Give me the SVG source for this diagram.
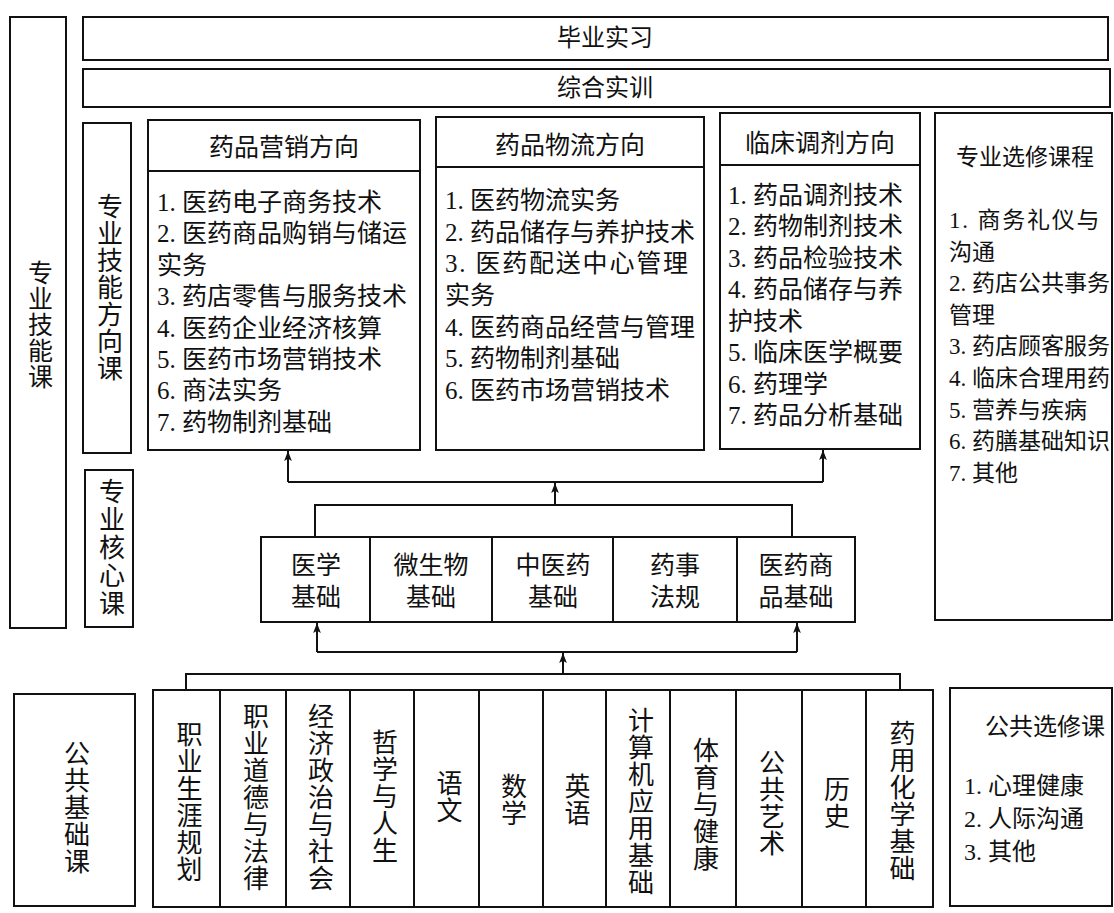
<svg xmlns="http://www.w3.org/2000/svg" width="1114" height="913" viewBox="0 0 1114 913">
<defs>
<marker id="arr" markerWidth="10" markerHeight="13" viewBox="0 0 13 10" refX="13" refY="5" orient="auto" markerUnits="userSpaceOnUse"><path d="M0,0 L13,5 L0,10 L3,5 z" fill="#111"/></marker>
<style>
.box{fill:#fff;stroke:#111;stroke-width:2}
.ln{fill:none;stroke:#111;stroke-width:2}
text{font-family:'Liberation Serif','Noto Sans CJK SC',sans-serif;fill:#111;dominant-baseline:central}
.c{text-anchor:middle}
.v{writing-mode:vertical-rl;text-anchor:middle}
.f23{font-size:23px}
.f24{font-size:24px}
.f25{font-size:25px}
.f26{font-size:26px}
</style>
</defs>
<rect width="1114" height="913" fill="#fff"/>

<g id="n-zyjnk"><rect class="box" x="10" y="17" width="56" height="611"/><text class="v f25" x="38" y="325" letter-spacing="1">专业技能课</text></g>
<g id="n-bysx"><rect class="box" x="83" y="17" width="1025" height="43"/><text class="c f24" x="605" y="38">毕业实习</text></g>
<g id="n-zhsx"><rect class="box" x="83" y="69" width="1027" height="38"/><text class="c f24" x="605" y="88">综合实训</text></g>
<g id="n-fxk"><rect class="box" x="83" y="123" width="48" height="330"/><text class="v f26" x="107" y="288" letter-spacing="1">专业技能方向课</text></g>
<g id="n-hxk"><rect class="box" x="85" y="470" width="48" height="157"/><text class="v f26" x="109" y="548" letter-spacing="2">专业核心课</text></g>

<g id="n-yx"><rect class="box" x="148" y="120" width="272" height="330"/><line class="ln" x1="148" y1="171" x2="420" y2="171"/>
<text class="c f25" x="284" y="147">药品营销方向</text>
<text class="f25" x="157" y="202">1. 医药电子商务技术</text>
<text class="f25" x="157" y="233">2. 医药商品购销与储运</text>
<text class="f25" x="157" y="265">实务</text>
<text class="f25" x="157" y="296">3. 药店零售与服务技术</text>
<text class="f25" x="157" y="328">4. 医药企业经济核算</text>
<text class="f25" x="157" y="359">5. 医药市场营销技术</text>
<text class="f25" x="157" y="390">6. 商法实务</text>
<text class="f25" x="157" y="422">7. 药物制剂基础</text>
</g>

<g id="n-wl"><rect class="box" x="436" y="117" width="268" height="333"/><line class="ln" x1="436" y1="167" x2="704" y2="167"/>
<text class="c f25" x="570" y="145">药品物流方向</text>
<text class="f25" x="445" y="200">1. 医药物流实务</text>
<text class="f25" x="445" y="232">2. 药品储存与养护技术</text>
<text class="f25" x="445" y="263" letter-spacing="1.8">3. 医药配送中心管理</text>
<text class="f25" x="445" y="295">实务</text>
<text class="f25" x="445" y="327">4. 医药商品经营与管理</text>
<text class="f25" x="445" y="358">5. 药物制剂基础</text>
<text class="f25" x="445" y="390">6. 医药市场营销技术</text>
</g>

<g id="n-lc"><rect class="box" x="720" y="113" width="200" height="336"/><line class="ln" x1="720" y1="165" x2="920" y2="165"/>
<text class="c f25" x="820" y="143">临床调剂方向</text>
<text class="f25" x="728" y="195">1. 药品调剂技术</text>
<text class="f25" x="728" y="226">2. 药物制剂技术</text>
<text class="f25" x="728" y="258">3. 药品检验技术</text>
<text class="f25" x="728" y="289">4. 药品储存与养</text>
<text class="f25" x="728" y="321">护技术</text>
<text class="f25" x="728" y="352">5. 临床医学概要</text>
<text class="f25" x="728" y="384">6. 药理学</text>
<text class="f25" x="728" y="415">7. 药品分析基础</text>
</g>

<g id="n-zyxx"><rect class="box" x="935" y="113" width="177" height="507"/>
<text class="c f23" x="1025" y="157">专业选修课程</text>
<text class="f23" x="949" y="220" letter-spacing="1.8">1. 商务礼仪与</text>
<text class="f23" x="949" y="252">沟通</text>
<text class="f23" x="949" y="283">2. 药店公共事务</text>
<text class="f23" x="949" y="315">管理</text>
<text class="f23" x="949" y="346">3. 药店顾客服务</text>
<text class="f23" x="949" y="378">4. 临床合理用药</text>
<text class="f23" x="949" y="410">5. 营养与疾病</text>
<text class="f23" x="949" y="441">6. 药膳基础知识</text>
<text class="f23" x="949" y="473">7. 其他</text>
</g>

<g id="n-yxjc"><rect class="box" x="261" y="537" width="109" height="85"/><text class="c f25" x="316" y="565">医学</text><text class="c f25" x="316" y="597">基础</text></g>
<g id="n-wswjc"><rect class="box" x="370" y="537" width="122" height="85"/><text class="c f25" x="431" y="565">微生物</text><text class="c f25" x="431" y="597">基础</text></g>
<g id="n-zyyjc"><rect class="box" x="492" y="537" width="121" height="85"/><text class="c f25" x="553" y="565">中医药</text><text class="c f25" x="553" y="597">基础</text></g>
<g id="n-ysfg"><rect class="box" x="613" y="537" width="124" height="85"/><text class="c f25" x="675" y="565">药事</text><text class="c f25" x="675" y="597">法规</text></g>
<g id="n-yyspjc"><rect class="box" x="737" y="537" width="118" height="85"/><text class="c f25" x="796" y="565">医药商</text><text class="c f25" x="796" y="597">品基础</text></g>

<g id="n-ggjck"><rect class="box" x="14" y="694" width="121" height="212"/><text class="v f26" x="74" y="808" letter-spacing="1">公共基础课</text></g>

<g id="n-c1"><rect class="box" x="153" y="690" width="67" height="217"/><text class="v f26" x="186.5" y="802" letter-spacing="1">职业生涯规划</text></g>
<g id="n-c2"><rect class="box" x="220" y="690" width="66" height="217"/><text class="v f26" x="253" y="798" letter-spacing="1">职业道德与法律</text></g>
<g id="n-c3"><rect class="box" x="286" y="690" width="64" height="217"/><text class="v f26" x="318" y="798" letter-spacing="1">经济政治与社会</text></g>
<g id="n-c4"><rect class="box" x="350" y="690" width="64" height="217"/><text class="v f26" x="382" y="797" letter-spacing="1">哲学与人生</text></g>
<g id="n-c5"><rect class="box" x="414" y="690" width="65" height="217"/><text class="v f26" x="446.5" y="797" letter-spacing="1">语文</text></g>
<g id="n-c6"><rect class="box" x="479" y="690" width="64" height="217"/><text class="v f26" x="511" y="800" letter-spacing="1">数学</text></g>
<g id="n-c7"><rect class="box" x="543" y="690" width="63" height="217"/><text class="v f26" x="574.5" y="800" letter-spacing="1">英语</text></g>
<g id="n-c8"><rect class="box" x="606" y="690" width="64" height="217"/><text class="v f26" x="638" y="802" letter-spacing="1">计算机应用基础</text></g>
<g id="n-c9"><rect class="box" x="670" y="690" width="66" height="217"/><text class="v f26" x="703" y="805" letter-spacing="1">体育与健康</text></g>
<g id="n-c10"><rect class="box" x="736" y="690" width="66" height="217"/><text class="v f26" x="769" y="803" letter-spacing="1">公共艺术</text></g>
<g id="n-c11"><rect class="box" x="802" y="690" width="64" height="217"/><text class="v f26" x="834" y="803" letter-spacing="1">历史</text></g>
<g id="n-c12"><rect class="box" x="866" y="690" width="67" height="217"/><text class="v f26" x="899.5" y="801" letter-spacing="1">药用化学基础</text></g>

<g id="n-ggxx"><rect class="box" x="950" y="688" width="162" height="218"/>
<text class="c f24" x="1045" y="727">公共选修课</text>
<text class="f24" x="964" y="786">1. 心理健康</text>
<text class="f24" x="964" y="819">2. 人际沟通</text>
<text class="f24" x="964" y="852">3. 其他</text>
</g>

<g id="connectors">
<path class="ln" d="M288,482 H823"/>
<path class="ln" d="M288,482 V451" marker-end="url(#arr)"/>
<path class="ln" d="M823,482 V450" marker-end="url(#arr)"/>
<path class="ln" d="M555,505 V483" marker-end="url(#arr)"/>
<path class="ln" d="M315,537 V505 H792 V537"/>
<path class="ln" d="M317,652 H797"/>
<path class="ln" d="M317,652 V623" marker-end="url(#arr)"/>
<path class="ln" d="M797,652 V623" marker-end="url(#arr)"/>
<path class="ln" d="M563,674 V653" marker-end="url(#arr)"/>
<path class="ln" d="M186,690 V674 H900 V690"/>
</g>
</svg>
